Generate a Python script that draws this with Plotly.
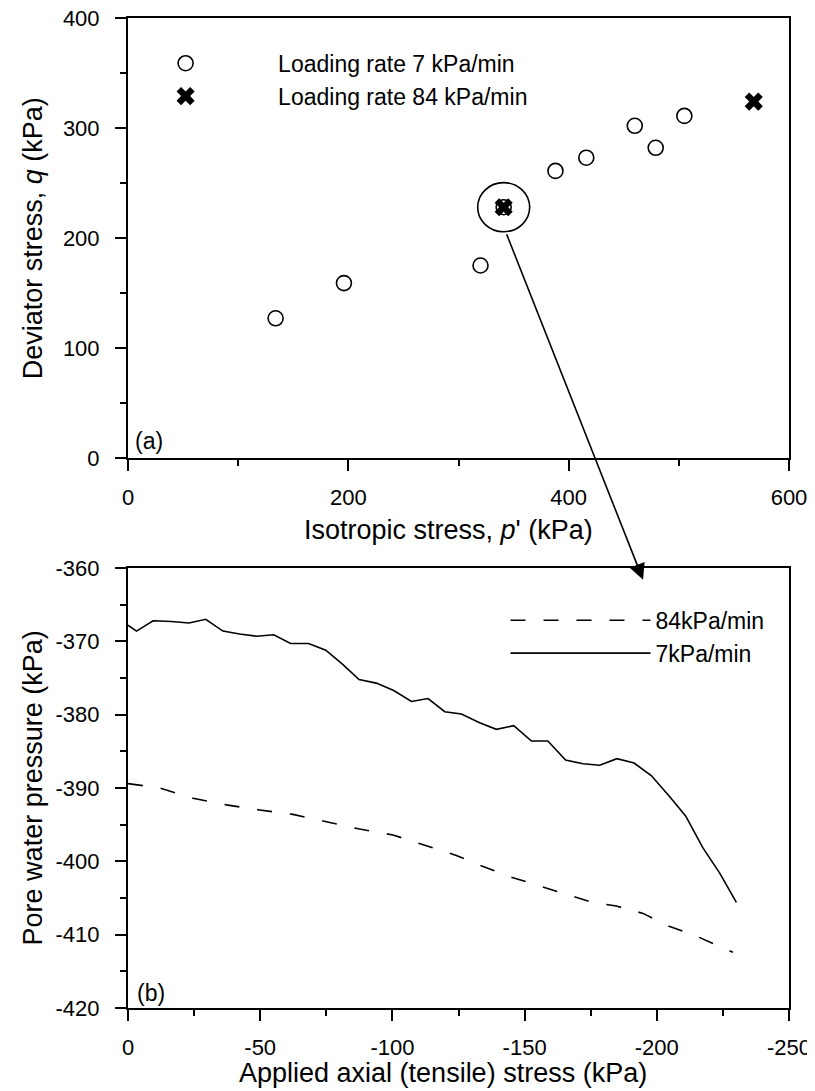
import plotly.graph_objects as go

# ---------------- data ----------------
# (a) stress states at failure
p_7 = [134, 196, 320, 341, 388, 416, 460, 479, 505]
q_7 = [127, 159, 175, 228, 261, 273, 302, 282, 311]
p_84 = [341, 568]
q_84 = [228, 324]
highlight_p, highlight_q = 341, 228

# (b) pore water pressure vs applied axial stress
sig_7 = [0, -3.2, -9.5, -16.4, -23.1, -29.4, -35.9, -42.2, -48.6, -55.1, -61.5, -68.3,
         -74.8, -81.1, -87.4, -93.9, -100.5, -107.2, -113.5, -119.8, -126.1, -133.0,
         -139.3, -145.9, -152.6, -158.8, -165.5, -172.1, -178.4, -184.9, -191.4,
         -197.9, -204.9, -210.9, -217.5, -223.8, -230.1]
u_7 = [-367.8, -368.6, -367.2, -367.3, -367.5, -367.0, -368.6, -369.0, -369.3, -369.1,
       -370.3, -370.3, -371.2, -373.1, -375.2, -375.7, -376.7, -378.2, -377.8, -379.6,
       -379.9, -381.1, -382.0, -381.5, -383.6, -383.6, -386.2, -386.7, -386.9, -386.0,
       -386.6, -388.3, -391.2, -393.8, -398.2, -401.6, -405.6]
sig_84 = [0, -12.0, -24.6, -37.2, -49.8, -62.4, -75.0, -87.6, -100.2, -112.8, -124.2,
          -134.3, -144.4, -154.4, -164.5, -174.6, -184.7, -194.8, -204.9, -215.0, -228.8]
u_84 = [-389.4, -390.0, -391.4, -392.3, -393.0, -393.6, -394.6, -395.6, -396.4, -397.9,
        -399.2, -400.7, -402.1, -403.2, -404.3, -405.5, -406.1, -407.1, -408.9, -410.2,
        -412.4]

xa_ticks = [0, 200, 400, 600]
ya_ticks = [0, 100, 200, 300, 400]
xb_ticks = [0, -50, -100, -150, -200, -250]
yb_ticks = [-360, -370, -380, -390, -400, -410, -420]

FONT = "Liberation Sans, Arial, sans-serif"
TICKF = dict(family=FONT, size=22, color="black")

fig = go.Figure()

# top panel
fig.add_trace(go.Scatter(x=p_7, y=q_7, mode="markers", name="Loading rate 7 kPa/min",
                         marker=dict(symbol="circle-open", size=15, color="black",
                                     line=dict(width=1.6, color="black")),
                         xaxis="x", yaxis="y", legend="legend", legendgroup="a1"))
fig.add_trace(go.Scatter(x=p_84, y=q_84, mode="markers", name="Loading rate 84 kPa/min",
                         marker=dict(symbol="x", size=16, color="black",
                                     line=dict(width=0)),
                         xaxis="x", yaxis="y", legend="legend", legendgroup="a2"))

# bottom panel
fig.add_trace(go.Scatter(x=sig_84, y=u_84, mode="lines", name="84kPa/min",
                         line=dict(color="black", width=1.6, dash="15px,18px"),
                         xaxis="x2", yaxis="y2", legend="legend2", legendgroup="b1"))
fig.add_trace(go.Scatter(x=sig_7, y=u_7, mode="lines", name="7kPa/min",
                         line=dict(color="black", width=1.6),
                         xaxis="x2", yaxis="y2", legend="legend2", legendgroup="b2"))

axis_common = dict(showline=True, linewidth=2, linecolor="black", mirror=True,
                   ticks="outside", ticklen=11, tickwidth=2, tickcolor="black",
                   showgrid=False, zeroline=False, tickfont=TICKF,
                   ticklabeloverflow="allow")
xstyle = dict(axis_common, ticklabelstandoff=8)
ystyle = dict(axis_common, ticklabelstandoff=11)

# page body has an 8px margin, so the figure is sized to fit the 815x1091 window
fig.update_layout(
    width=807, height=1083,
    margin=dict(l=120, r=26, t=10, b=83, autoexpand=False),
    plot_bgcolor="white", paper_bgcolor="white",
    font=dict(family=FONT, color="black"),
    xaxis=dict(domain=[0, 1], anchor="y", range=[0, 600], tickmode="array",
               tickvals=xa_ticks, ticktext=[str(v) for v in xa_ticks],
               minor=dict(dtick=100, tick0=0, ticks="outside", ticklen=6,
                          tickwidth=2, tickcolor="black"),
               **xstyle),
    yaxis=dict(domain=[550 / 990, 1], anchor="x", range=[0, 400], tickmode="array",
               tickvals=ya_ticks, ticktext=[str(v) for v in ya_ticks],
               minor=dict(dtick=50, tick0=0, ticks="outside", ticklen=6,
                          tickwidth=2, tickcolor="black"),
               **ystyle),
    xaxis2=dict(domain=[0, 1], anchor="y2", range=[0, -250], tickmode="array",
                tickvals=xb_ticks, ticktext=[str(v) for v in xb_ticks],
                minor=dict(dtick=25, tick0=0, ticks="outside", ticklen=6,
                           tickwidth=2, tickcolor="black"),
                **xstyle),
    yaxis2=dict(domain=[0, 440 / 990], anchor="x2", range=[-420, -360], tickmode="array",
                tickvals=yb_ticks, ticktext=[str(v) for v in yb_ticks],
                minor=dict(dtick=5, tick0=0, ticks="outside", ticklen=6,
                           tickwidth=2, tickcolor="black"),
                **ystyle),
    legend=dict(x=-0.0528, y=0.976, xanchor="left", yanchor="top",
                font=dict(family=FONT, size=23, color="black"),
                bgcolor="rgba(0,0,0,0)", borderwidth=0, itemwidth=175,
                tracegroupgap=4, traceorder="normal"),
    legend2=dict(x=0.5711, y=0.4134, xanchor="left", yanchor="top",
                 font=dict(family=FONT, size=23, color="black"),
                 bgcolor="rgba(0,0,0,0)", borderwidth=0, itemwidth=140,
                 tracegroupgap=3, traceorder="normal"),
)

# highlight ellipse around the common point
fig.add_shape(type="circle", xref="x", yref="y",
              x0=highlight_p - 23.6, x1=highlight_p + 23.6,
              y0=highlight_q - 22.3, y1=highlight_q + 22.3,
              line=dict(color="black", width=1.6))

ann = []
# titles
ann.append(dict(text="Isotropic stress, <i>p</i>' (kPa)", xref="paper", yref="paper",
                x=0.4843, y=0.4831, xanchor="center", yanchor="middle", showarrow=False,
                font=dict(family=FONT, size=27, color="black")))
ann.append(dict(text="Deviator stress, <i>q</i> (kPa)", xref="paper", yref="paper",
                x=-0.1442, y=0.7771, xanchor="center", yanchor="middle", showarrow=False,
                textangle=-90, font=dict(family=FONT, size=27, color="black")))
ann.append(dict(text="Applied axial (tensile) stress (kPa)", xref="paper", yref="paper",
                x=0.4769, y=-0.0654, xanchor="center", yanchor="middle", showarrow=False,
                font=dict(family=FONT, size=27, color="black")))
ann.append(dict(text="Pore water pressure (kPa)", xref="paper", yref="paper",
                x=-0.1442, y=0.2225, xanchor="center", yanchor="middle", showarrow=False,
                textangle=-90, font=dict(family=FONT, size=27, color="black")))
# panel labels
ann.append(dict(text="(a)", xref="paper", yref="paper", x=0.0071, y=0.5723,
                xanchor="left", yanchor="middle", showarrow=False,
                font=dict(family=FONT, size=23, color="black")))
ann.append(dict(text="(b)", xref="paper", yref="paper", x=0.0101, y=0.01515,
                xanchor="left", yanchor="middle", showarrow=False,
                font=dict(family=FONT, size=23, color="black")))
# arrow from highlighted point to panel (b)
ann.append(dict(text="", xref="x2", yref="y2", x=-194.8, y=-361.6,
                ax=-137, ay=-347, showarrow=True, arrowhead=2, arrowsize=2,
                arrowwidth=1.6, arrowcolor="black"))
fig.update_layout(annotations=ann)

fig.write_html("out.html")
